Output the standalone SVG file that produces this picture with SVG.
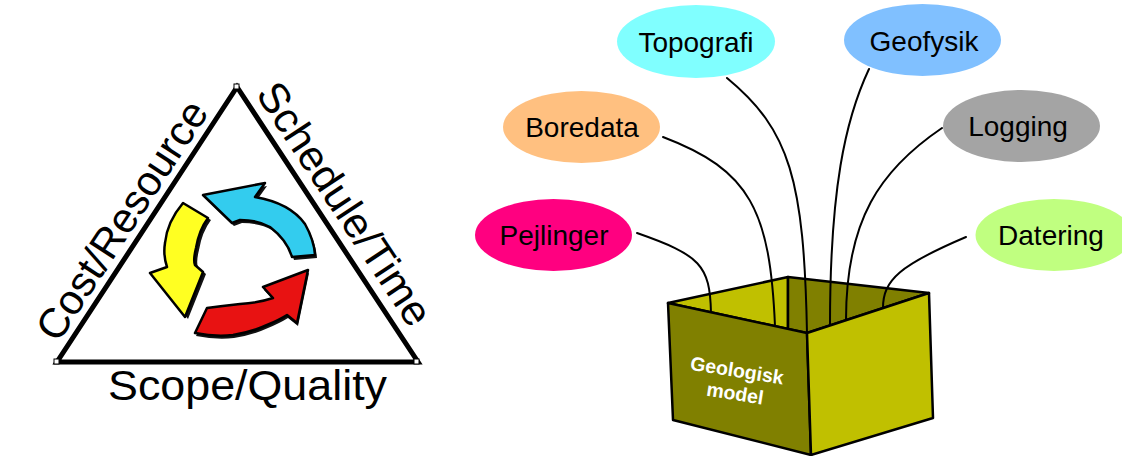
<svg xmlns="http://www.w3.org/2000/svg" width="1122" height="456" viewBox="0 0 1122 456">
  <style>
    .lbl { font-family: "Liberation Sans", Arial, sans-serif; fill: #000; }
    .node-lbl { font-size: 28px; text-anchor: middle; }
    .side-lbl { font-size: 42px; }
    .box-lbl { font-size: 19.5px; font-weight: bold; text-anchor: middle; fill: #fff; }
    .wire { fill: none; stroke: #000; stroke-width: 2; stroke-linecap: round; }
    .face { stroke: #000; stroke-width: 2.5; stroke-linejoin: round; }
    .arrow { stroke: #000; stroke-width: 2.5; stroke-linejoin: round; }
    .shadow { fill: #111; }
    .corner { fill: #fff; stroke: #000; stroke-width: 1; }
  </style>

  <rect width="1122" height="456" fill="#fff"/>

  <!-- Project management triangle -->
  <g id="triangle">
    <polygon points="237,87 57,362 418,362" fill="#fff" stroke="#000" stroke-width="5" stroke-linejoin="miter"/>
    <rect class="corner" x="234" y="84" width="5" height="5"/>
    <rect class="corner" x="54" y="359" width="5" height="5"/>
    <rect class="corner" x="414" y="359" width="5" height="5"/>
  </g>

  <g id="label-cost">
    <text class="lbl side-lbl" transform="translate(58,344) rotate(-56.8)" textLength="277" lengthAdjust="spacingAndGlyphs">Cost/Resource</text>
  </g>
  <g id="label-schedule">
    <text class="lbl side-lbl" transform="translate(255,94) rotate(56.6)" textLength="282" lengthAdjust="spacingAndGlyphs">Schedule/Time</text>
  </g>
  <g id="label-scope">
    <text class="lbl side-lbl" x="108" y="400" textLength="279" lengthAdjust="spacingAndGlyphs">Scope/Quality</text>
  </g>

  <!-- Cycle arrows in the middle of the triangle -->
  <g id="cycle-arrows">
    <g id="arrow-blue">
      <path class="shadow" transform="translate(2,3)" d="M203,195 L265,183 L255,197 Q290,203 305,224 Q314,240 315,255 L292,257 Q287,240 270,227 Q258,220 240,220 L232,223 Z"/>
      <path class="arrow" fill="#33ccee" d="M203,195 L265,183 L255,197 Q290,203 305,224 Q314,240 315,255 L292,257 Q287,240 270,227 Q258,220 240,220 L232,223 Z"/>
    </g>
    <g id="arrow-yellow">
      <path class="shadow" transform="translate(3,2)" d="M183,203 L208,218 Q199,230 196,248 Q193,260 195,265 L203,272 L185,317 L150,273 L167,267 Q163,255 165,243 Q167,222 183,203 Z"/>
      <path class="arrow" fill="#ffff22" d="M183,203 L208,218 Q199,230 196,248 Q193,260 195,265 L203,272 L185,317 L150,273 L167,267 Q163,255 165,243 Q167,222 183,203 Z"/>
    </g>
    <g id="arrow-red">
      <path class="shadow" transform="translate(1,3)" d="M195,333 Q215,337 233,335 Q252,332 267,325 Q279,320 287,315 L297,323 L308,270 L263,287 L273,298 Q258,303 240,304 Q222,306 207,308 Z"/>
      <path class="arrow" fill="#e81212" d="M195,333 Q215,337 233,335 Q252,332 267,325 Q279,320 287,315 L297,323 L308,270 L263,287 L273,298 Q258,303 240,304 Q222,306 207,308 Z"/>
    </g>
  </g>

  <!-- Inside of the open box -->
  <g id="box-inside">
    <polygon class="face" fill="#c0c000" points="668,303 788,277 788,329"/>
    <polygon class="face" fill="#808000" points="788,277 929,293 807,333 788,329"/>
  </g>

  <!-- Connectors from the data sources into the box -->
  <g id="connectors">
    <path class="wire" d="M637,233 C700,255 710,265 711,313"/>
    <path class="wire" d="M663,137 C750,170 770,210 775,326"/>
    <path class="wire" d="M727,78 C790,130 804,180 807,333"/>
    <path class="wire" d="M869,69 C845,120 830,190 830,325"/>
    <path class="wire" d="M942,128 C880,170 846,220 846,320"/>
    <path class="wire" d="M966,237 C900,265 883,280 883,308"/>
  </g>

  <!-- Box outer faces and label -->
  <g id="box">
    <polygon class="face" fill="#808000" points="668,303 807,333 811,455 673,420"/>
    <polygon class="face" fill="#c0c000" points="807,333 929,293 933,418 811,455"/>
    <text class="lbl box-lbl" transform="translate(736,377) rotate(9)" style="fill:#fff">Geologisk</text>
    <text class="lbl box-lbl" transform="translate(734,400) rotate(9)" style="fill:#fff">model</text>
  </g>

  <!-- Data source nodes -->
  <g id="node-topografi">
    <ellipse cx="696" cy="41.5" rx="79" ry="36.5" fill="#80ffff"/>
    <text class="lbl node-lbl" x="696" y="52">Topografi</text>
  </g>
  <g id="node-geofysik">
    <ellipse cx="922.5" cy="40" rx="78.5" ry="36" fill="#80c0ff"/>
    <text class="lbl node-lbl" x="924" y="51">Geofysik</text>
  </g>
  <g id="node-boredata">
    <ellipse cx="581.5" cy="127" rx="78.5" ry="36" fill="#ffc080"/>
    <text class="lbl node-lbl" x="582" y="137">Boredata</text>
  </g>
  <g id="node-logging">
    <ellipse cx="1021.5" cy="126" rx="78.5" ry="36" fill="#a4a4a4"/>
    <text class="lbl node-lbl" x="1018" y="136">Logging</text>
  </g>
  <g id="node-pejlinger">
    <ellipse cx="553.5" cy="235" rx="78.5" ry="36" fill="#ff0080"/>
    <text class="lbl node-lbl" x="554" y="245">Pejlinger</text>
  </g>
  <g id="node-datering">
    <ellipse cx="1054" cy="235" rx="78.5" ry="36" fill="#c0ff80"/>
    <text class="lbl node-lbl" x="1051" y="245">Datering</text>
  </g>
</svg>
